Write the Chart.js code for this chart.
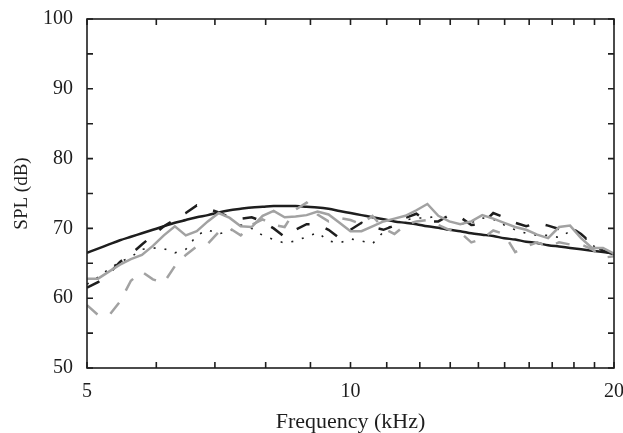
<!DOCTYPE html>
<html>
<head>
<meta charset="utf-8">
<script src="https://cdn.jsdelivr.net/npm/chart.js@4/dist/chart.umd.min.js"></script>
<style>
  html, body { margin: 0; padding: 0; background: #fff; }
  canvas { display: block; }
</style>
</head>
<body>
<canvas id="myChart" width="623" height="433"></canvas>
<script>
// frequencies in kHz (1/24 octave steps)
let freq = [5.000, 5.147, 5.297, 5.453, 5.612, 5.777, 5.946, 6.120, 6.300, 6.484, 6.674, 6.870,
	7.071, 7.278, 7.492, 7.711, 7.937, 8.170, 8.409, 8.655, 8.909, 9.170, 9.439, 9.715,
	10.000, 10.293, 10.595, 10.905, 11.225, 11.554, 11.892, 12.241, 12.599, 12.968, 13.348, 13.740,
	14.142, 14.557, 14.983, 15.422, 15.874, 16.339, 16.818, 17.310, 17.818, 18.340, 18.877, 19.430, 20.000];

let blackSolid = [66.5, 67.1, 67.7, 68.3, 68.8, 69.3, 69.8, 70.3, 70.8, 71.2, 71.6, 71.9,
	72.3, 72.6, 72.8, 73.0, 73.1, 73.2, 73.2, 73.2, 73.1, 73.0, 72.8, 72.5,
	72.2, 71.9, 71.6, 71.3, 71.0, 70.8, 70.6, 70.3, 70.1, 69.8, 69.6, 69.3,
	69.1, 68.9, 68.6, 68.4, 68.1, 67.9, 67.6, 67.4, 67.2, 67.0, 66.8, 66.6, 66.4];

let blackDashed = [61.5, 62.3, 63.5, 65.2, 66.3, 67.7, 69.0, 70.3, 71.3, 72.2, 73.3, 72.8,
	72.3, 71.6, 71.4, 71.6, 71.0, 70.0, 68.8, 69.8, 70.6, 70.6, 69.8, 68.6,
	69.8, 70.8, 70.2, 69.8, 70.4, 71.5, 72.1, 71.0, 71.0, 71.9, 71.6, 70.5,
	70.6, 72.2, 71.6, 70.8, 70.3, 70.8, 70.4, 69.9, 70.2, 69.2, 67.8, 66.8, 66.3];

let blackDotted = [62.0, 63.0, 64.2, 65.2, 65.9, 67.0, 67.2, 67.1, 66.5, 67.0, 69.0, 69.8,
	69.2, 69.6, 70.5, 70.0, 69.0, 68.4, 67.9, 68.2, 68.8, 69.4, 68.2, 67.9,
	68.5, 68.2, 67.8, 69.5, 70.8, 71.2, 71.5, 71.5, 71.8, 71.0, 70.6, 70.8,
	71.5, 71.3, 70.5, 69.8, 69.3, 69.0, 69.0, 68.7, 69.6, 69.2, 67.6, 66.8, 66.2];

let graySolid = [62.8, 62.8, 63.8, 64.8, 65.6, 66.2, 67.5, 69.0, 70.3, 69.0, 69.6, 71.0,
	72.2, 71.5, 70.3, 70.2, 71.8, 72.5, 71.6, 71.7, 71.9, 72.4, 72.0, 70.8,
	69.6, 69.6, 70.3, 71.0, 71.4, 71.8, 72.6, 73.5, 71.8, 71.0, 70.6, 71.0,
	71.9, 71.4, 70.8, 70.2, 69.8, 69.1, 68.6, 70.2, 70.4, 68.6, 67.2, 67.2, 66.4];

let grayDashed = [59.0, 57.6, 57.5, 59.5, 62.5, 63.8, 62.7, 62.2, 64.6, 66.2, 67.4, 67.8,
	69.5, 70.0, 69.0, 70.5, 71.3, 70.5, 70.2, 72.7, 73.7, 72.0, 71.0, 71.5,
	71.2, 70.6, 71.8, 70.0, 69.2, 70.5, 71.0, 71.2, 70.5, 69.8, 69.4, 68.0,
	68.5, 69.7, 69.2, 66.6, 67.4, 68.0, 67.4, 68.0, 67.7, 67.7, 67.0, 65.8, 66.0];

let xTicks = [5, 6, 7, 8, 9, 10, 11, 12, 13, 14, 15, 16, 17, 18, 19, 20];
let xLabels = [5, 10, 20];
let yTicks = [50, 55, 60, 65, 70, 75, 80, 85, 90, 95, 100];

function pts(vals) {
	return freq.map(function (f, i) { return {x: f, y: vals[i]}; });
}

let serif = '"Liberation Serif", "DejaVu Serif", serif';
let ink = '#1e1e1e';
let gray = '#a2a2a2';

const frameTicks = {
	id: 'frameTicks',
	afterDatasetsDraw(chart) {
		const ctx = chart.ctx;
		const a = chart.chartArea;
		const x = chart.scales.x, y = chart.scales.y;
		ctx.save();
		ctx.strokeStyle = ink;
		ctx.lineWidth = 1.6;
		ctx.beginPath();
		xTicks.forEach(function (v) {
			let px = x.getPixelForValue(v);
			ctx.moveTo(px, a.bottom); ctx.lineTo(px, a.bottom - 6);
			ctx.moveTo(px, a.top); ctx.lineTo(px, a.top + 6);
		});
		yTicks.forEach(function (v) {
			let py = y.getPixelForValue(v);
			ctx.moveTo(a.left, py); ctx.lineTo(a.left + 6, py);
			ctx.moveTo(a.right, py); ctx.lineTo(a.right - 6, py);
		});
		ctx.stroke();
		ctx.strokeRect(a.left, a.top, a.right - a.left, a.bottom - a.top);
		ctx.restore();
	}
};

var ctx = document.getElementById('myChart').getContext('2d');
var chart = new Chart(ctx, {
	type: 'line',
	data: {
		datasets: [
			{label: 'gray dashed', data: pts(grayDashed), borderColor: gray, borderWidth: 2.5, borderDash: [14, 14], tension: 0},
			{label: 'gray solid', data: pts(graySolid), borderColor: gray, borderWidth: 2.5, tension: 0},
			{label: 'black dotted', data: pts(blackDotted), borderColor: ink, borderWidth: 1.6, borderDash: [2, 9], tension: 0},
			{label: 'black dashed', data: pts(blackDashed), borderColor: ink, borderWidth: 2.5, borderDash: [14, 17], tension: 0},
			{label: 'black solid', data: pts(blackSolid), borderColor: ink, borderWidth: 2.5, cubicInterpolationMode: 'monotone'}
		]
	},
	options: {
		responsive: false,
		animation: false,
		parsing: true,
		elements: { point: { radius: 0 }, line: { borderCapStyle: 'butt' } },
		layout: { padding: { top: 19, right: 9, left: 0, bottom: 0 } },
		plugins: { legend: { display: false }, tooltip: { enabled: false } },
		scales: {
			x: {
				type: 'logarithmic',
				min: 5,
				max: 20,
				afterBuildTicks: function (s) { s.ticks = xTicks.map(function (v) { return {value: v}; }); },
				afterFit: function (s) { s.height = 65; s.paddingLeft = 0; s.paddingRight = 0; },
				grid: { display: false, drawTicks: false },
				border: { display: false },
				ticks: {
					autoSkip: false, maxRotation: 0, padding: 12, color: ink,
					font: { family: serif, size: 20 },
					callback: function (v) { return xLabels.includes(v) ? String(v) : ''; }
				},
				title: { display: true, text: 'Frequency (kHz)', color: ink, font: { family: serif, size: 22, lineHeight: 1 }, padding: 0 }
			},
			y: {
				min: 50,
				max: 100,
				afterFit: function (s) { s.width = 87; s.paddingTop = 0; s.paddingBottom = 0; },
				grid: { display: false, drawTicks: false },
				border: { display: false },
				ticks: {
					stepSize: 5, padding: 14, color: ink,
					font: { family: serif, size: 20 },
					callback: function (v) { return v % 10 === 0 ? String(v) : ''; }
				},
				title: { display: true, text: 'SPL (dB)', color: ink, font: { family: serif, size: 19, lineHeight: 1.2 }, padding: { top: 11, bottom: 0 } }
			}
		}
	},
	plugins: [frameTicks]
});
</script>
</body>
</html>
